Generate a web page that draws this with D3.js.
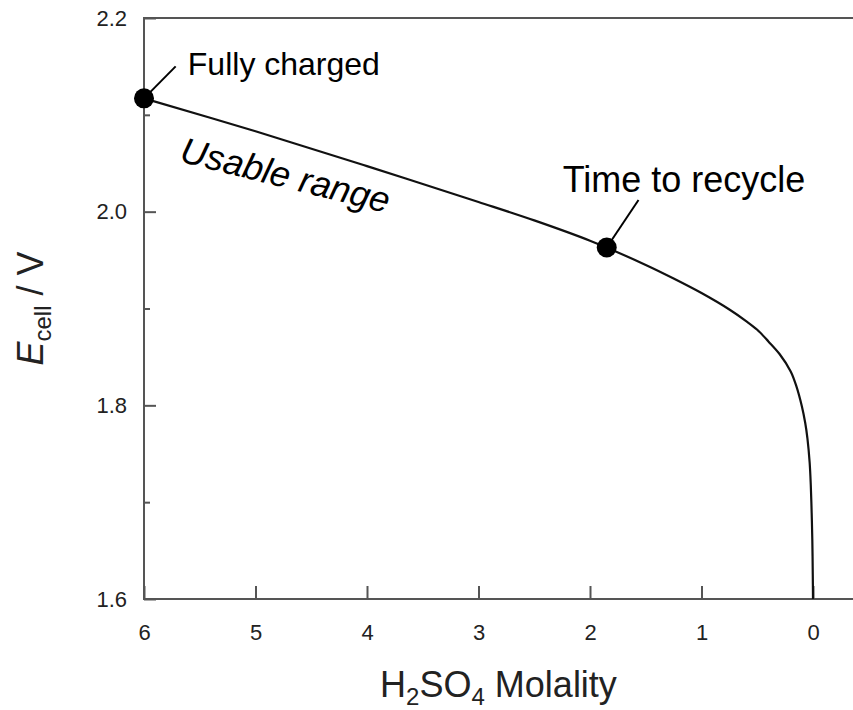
<!DOCTYPE html>
<html>
<head>
<meta charset="utf-8">
<script src="https://cdn.jsdelivr.net/npm/d3@7"></script>
<style>
  body { margin: 0; background: #fff; }
  svg { display: block; font-family: "Liberation Sans", Arial, Helvetica, sans-serif; }
</style>
</head>
<body>
<svg id="viz"></svg>
<script>
// cell voltage vs acid molality
var molality = [6, 5, 4, 3, 2.5, 2, 1.5, 1.25, 1, 0.75, 0.6, 0.5, 0.4, 0.3, 0.2, 0.15, 0.1, 0.07, 0.05, 0.03, 0.02, 0.012, 0.006, 0.002, 0]
var ecell = [2.117, 2.083, 2.047, 2.010, 1.991, 1.970, 1.945, 1.931, 1.916, 1.899, 1.887, 1.878, 1.866, 1.853, 1.835, 1.820, 1.799, 1.782, 1.766, 1.741, 1.718, 1.689, 1.660, 1.625, 1.600]

var xTicks = [6, 5, 4, 3, 2, 1, 0]
var yTicks = [1.6, 1.8, 2.0, 2.2]
var yMinor = [1.7, 1.9, 2.1]

// the two marked states
var markLabels = ["Fully charged", "Time to recycle"]
var markM = [6, 1.85]
var markE = [2.117, 1.963]

var width = 853
var height = 710
var FONT = '"Liberation Sans", Arial, Helvetica, sans-serif'

var svg = d3.select("#viz")
	.attr("width", width)
	.attr("height", height)

var plotL = 144, plotR = 813, plotT = 18, plotB = 599

var x = d3.scaleLinear().domain([6, 0]).range([plotL, plotR])
var y = d3.scaleLinear().domain([1.6, 2.2]).range([plotB, plotT])

// frame: left, top and bottom lines run off the right edge
svg.append("path")
	.attr("d", "M" + width + "," + plotT + "H" + plotL + "V" + plotB + "H" + width)
	.attr("stroke", "#555").attr("stroke-width", 2).attr("fill", "none")

var xAxis = svg.append("g")
	.attr("transform", "translate(0," + plotB + ")")
	.call(d3.axisBottom(x).tickValues(xTicks).tickSize(-13).tickPadding(25).tickFormat(d3.format("d")))
xAxis.select(".domain").remove()

var yAxis = svg.append("g")
	.attr("transform", "translate(" + plotL + ",0)")
	.call(d3.axisLeft(y).tickValues(yTicks).tickSize(-12).tickPadding(17).tickFormat(d3.format(".1f")))
yAxis.select(".domain").remove()

var yAxisMinor = svg.append("g")
	.attr("transform", "translate(" + plotL + ",0)")
	.call(d3.axisLeft(y).tickValues(yMinor).tickSize(-6).tickFormat(""))
yAxisMinor.select(".domain").remove()

svg.selectAll(".tick line").attr("stroke", "#555").attr("stroke-width", 2)
svg.selectAll(".tick text").attr("font-size", 22).attr("font-family", FONT).attr("fill", "#222")

// curve
var pts = molality.map((m, i) => [m, ecell[i]])
var line = d3.line()
	.x(d => x(d[0]))
	.y(d => y(d[1]))
	.curve(d3.curveCatmullRom.alpha(0.5))

svg.append("path")
	.datum(pts)
	.attr("d", line)
	.attr("fill", "none")
	.attr("stroke", "#111")
	.attr("stroke-width", 2.2)

// leader lines + dots
var leaderEnd = [[5.716, 2.150], [1.565, 2.012]]
for (let i = 0; i < markM.length; i++) {
	svg.append("line")
		.attr("x1", x(markM[i])).attr("y1", y(markE[i]))
		.attr("x2", x(leaderEnd[i][0])).attr("y2", y(leaderEnd[i][1]))
		.attr("stroke", "#000").attr("stroke-width", 2)
	svg.append("circle")
		.attr("cx", x(markM[i])).attr("cy", y(markE[i]))
		.attr("r", 10).attr("fill", "#000")
}

svg.append("text")
	.attr("x", x(5.607)).attr("y", y(2.1414))
	.attr("font-size", 32)
	.text(markLabels[0])

svg.append("text")
	.attr("x", x(2.245)).attr("y", y(2.0206))
	.attr("font-size", 36)
	.text(markLabels[1])

svg.append("text")
	.attr("transform", "translate(" + x(5.69) + "," + y(2.052) + ") rotate(14)")
	.attr("font-size", 36)
	.attr("font-style", "italic")
	.text("Usable range")

// axis titles
var xt = svg.append("text")
	.attr("x", (plotL + width) / 2).attr("y", 697)
	.attr("text-anchor", "middle")
	.attr("font-size", 36)
	.attr("fill", "#222")
xt.append("tspan").text("H")
xt.append("tspan").attr("font-size", 24).attr("dy", 8).text("2")
xt.append("tspan").attr("dy", -8).text("SO")
xt.append("tspan").attr("font-size", 24).attr("dy", 8).text("4")
xt.append("tspan").attr("dy", -8).text(" Molality")

var yt = svg.append("text")
	.attr("transform", "translate(43," + ((plotT + plotB) / 2) + ") rotate(-90)")
	.attr("text-anchor", "middle")
	.attr("font-size", 36)
	.attr("fill", "#222")
yt.append("tspan").attr("font-style", "italic").text("E")
yt.append("tspan").attr("font-size", 24).attr("dy", 8).text("cell")
yt.append("tspan").attr("dy", -8).text(" / V")
</script>
</body>
</html>
